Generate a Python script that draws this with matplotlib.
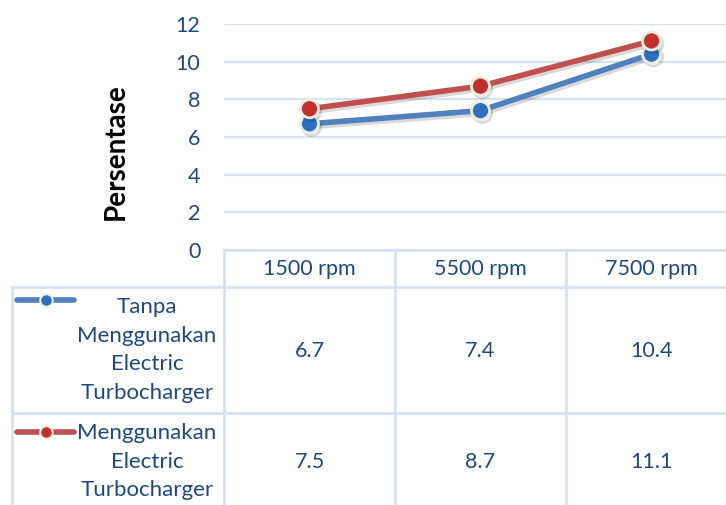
import matplotlib
matplotlib.use("Agg")
import matplotlib.pyplot as plt
from matplotlib import patheffects as pe
from matplotlib.transforms import blended_transform_factory

plt.rcParams['font.family'] = ['Lato', 'DejaVu Sans']

categories = ["1500 rpm", "5500 rpm", "7500 rpm"]
series_names = ["Tanpa\nMenggunakan\nElectric\nTurbocharger",
                "Menggunakan\nElectric\nTurbocharger"]
tanpa = [6.7, 7.4, 10.4]
dengan = [7.5, 8.7, 11.1]
yticks = [0, 2, 4, 6, 8, 10, 12]

line_colors = ["#4F81BD", "#C0504D"]
marker_colors = ["#2F6FBF", "#C0302D"]
edge_color = "#EEECE1"
grid_color = "#D6E2F2"
text_color = "#1F497D"

W, H = 726, 505
fig = plt.figure(figsize=(W / 100, H / 100), dpi=100)

# overlay for the data table under the plot (pixel coordinates, y downwards)
tbl = fig.add_axes([0, 0, 1, 1], zorder=0)
tbl.set_xlim(0, W)
tbl.set_ylim(H, 0)
tbl.axis("off")

ax = fig.add_axes([224 / W, (H - 250) / H, 513 / W, 226 / H], zorder=1)
ax.patch.set_alpha(0)
ax.set_xlim(-0.5, len(categories) - 0.5)
ax.set_ylim(0, 12)
ax.set_yticks(yticks)
ax.set_xticks([])
for s in ax.spines.values():
    s.set_visible(False)
ax.tick_params(axis="y", length=0, pad=17, labelsize=15.5, labelcolor=text_color)
ax.yaxis.grid(True, color=grid_color, linewidth=1.6)
ax.set_axisbelow(True)
ax.set_ylabel("Persentase", fontsize=20, fontweight="bold", color="black")
ax.yaxis.set_label_coords(-0.185, 0.434)

x = list(range(len(categories)))
shadow = [pe.SimpleLineShadow(offset=(1.5, -2), alpha=0.15, shadow_color="black"), pe.Normal()]
for vals, lc, mc in zip([tanpa, dengan], line_colors, marker_colors):
    ax.plot(x, vals, color=lc, linewidth=4, solid_capstyle="round",
            marker="o", markersize=13, markerfacecolor=mc,
            markeredgecolor=edge_color, markeredgewidth=2,
            path_effects=shadow, clip_on=False, zorder=3)

# table grid
xt = blended_transform_factory(ax.transData, tbl.transData)
row_tops = [250, 287, 413]
bottom = 520
left_edge = 12
xb = [-0.5 + i for i in range(len(categories) + 1)]
lw = 2
tbl.plot(xb, [250] * len(xb), transform=xt, color=grid_color, lw=lw)
for xv in xb:
    tbl.plot([xv, xv], [250, bottom], transform=xt, color=grid_color, lw=lw)
for yv in row_tops[1:]:
    tbl.plot([left_edge, W + 20], [yv, yv], color=grid_color, lw=lw)
tbl.plot([left_edge, left_edge], [287, bottom], color=grid_color, lw=lw)

for i, c in enumerate(categories):
    tbl.text(i, 269, c, transform=xt, ha="center", va="center",
             fontsize=15.5, color=text_color)

row_centers = [351, 462]
for r, vals in enumerate([tanpa, dengan]):
    for i, v in enumerate(vals):
        tbl.text(i, row_centers[r], f"{v}", transform=xt, ha="center",
                 va="center", fontsize=15.5, color=text_color)

# legend keys and series names in the row headers
key_y = [300, 432]
name_top = [297, 423]
for r, name in enumerate(series_names):
    tbl.plot([17, 74], [key_y[r]] * 2, color=line_colors[r], lw=4,
             solid_capstyle="round")
    tbl.plot([46], [key_y[r]], marker="o", markersize=9,
             markerfacecolor=marker_colors[r], markeredgecolor=edge_color,
             markeredgewidth=1.5)
    tbl.text(147, name_top[r], name, ha="center", va="top", fontsize=16,
             color=text_color, linespacing=1.54)

fig.savefig("out.png", dpi=100)
